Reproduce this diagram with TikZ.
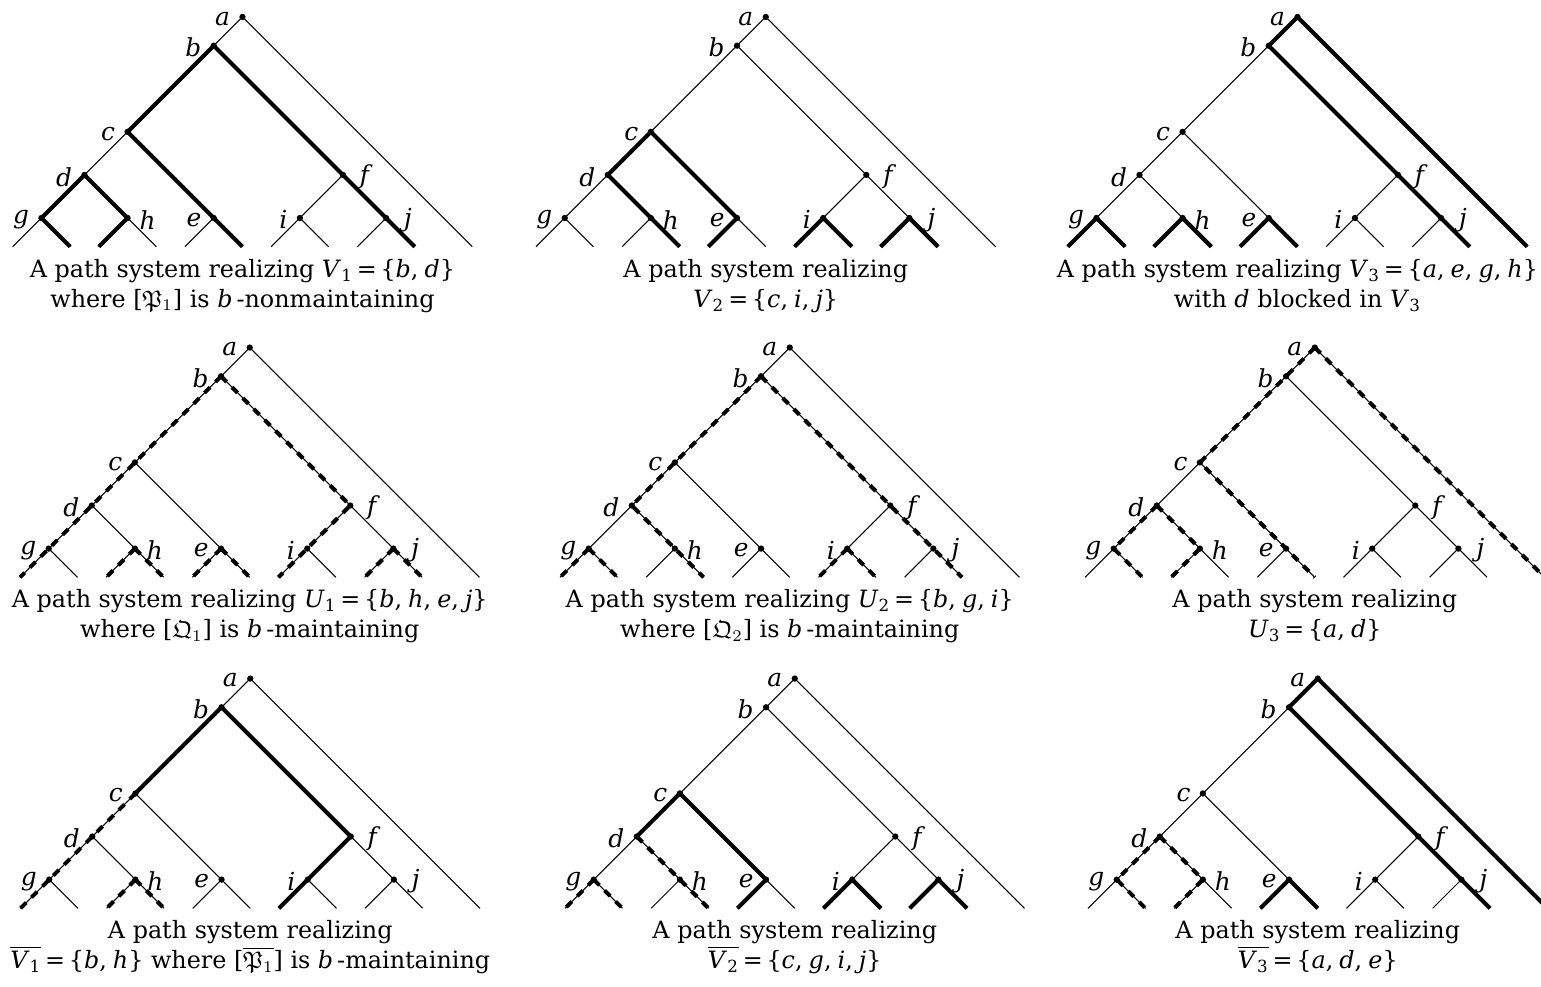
\documentclass[tikz,border=0pt]{standalone}
\usepackage{fontspec}
\setmainfont{DejaVu Serif}
\usepackage{amsfonts}
\newcommand\vv[1]{\textit{#1}}
\newcommand\sbs[1]{\textsubscript{#1}}
\newcommand\eqs{\kern1.6pt=\kern1.6pt}
\newcommand\cm{,\kern2.6pt}
\tikzset{
  x=0.4275pt, y=-0.4275pt,
  thinedge/.style={line width=0.45pt},
  thk/.style={line width=1.75pt, line cap=butt},
  dsh/.style={line width=1.7pt, line cap=butt, dash pattern=on 3.4pt off 3.2pt},
  tdot/.style={circle, fill=black, inner sep=0pt, minimum size=2.7pt},
  lbl/.style={inner sep=0pt, font=\fontsize{10.6}{12}\selectfont\itshape, yshift=-0.8pt},
  capt/.style={anchor=base, inner sep=0pt, font=\fontsize{10.2}{12}\selectfont}
}
\def\s{28.72}
% coordinates and thin tree
\newcommand\mktree[3]{%
\begin{scope}[shift={(#2,#3)}]
  \coordinate (#1a) at (8*\s,-8*\s);
  \coordinate (#1b) at (7*\s,-7*\s);
  \coordinate (#1c) at (4*\s,-4*\s);
  \coordinate (#1d) at (2.5*\s,-2.5*\s);
  \coordinate (#1e) at (7*\s,-1*\s);
  \coordinate (#1f) at (11.5*\s,-2.5*\s);
  \coordinate (#1g) at (1*\s,-1*\s);
  \coordinate (#1h) at (4*\s,-1*\s);
  \coordinate (#1i) at (10*\s,-1*\s);
  \coordinate (#1j) at (13*\s,-1*\s);
  \coordinate (#1gL) at (0,0);
  \coordinate (#1gR) at (2*\s,0);
  \coordinate (#1hL) at (3*\s,0);
  \coordinate (#1hR) at (5*\s,0);
  \coordinate (#1eL) at (6*\s,0);
  \coordinate (#1eR) at (8*\s,0);
  \coordinate (#1iL) at (9*\s,0);
  \coordinate (#1iR) at (11*\s,0);
  \coordinate (#1jL) at (12*\s,0);
  \coordinate (#1jR) at (14*\s,0);
  \coordinate (#1aR) at (16*\s,0);
  \coordinate (#1capA) at (8*\s,30.3);
  \coordinate (#1capB) at (8*\s,60.3);
\end{scope}
\draw[thinedge] (#1a)--(#1b) (#1a)--(#1aR) (#1b)--(#1c) (#1b)--(#1f)
  (#1c)--(#1d) (#1c)--(#1e) (#1d)--(#1g) (#1d)--(#1h)
  (#1e)--(#1eL) (#1e)--(#1eR) (#1f)--(#1i) (#1f)--(#1j)
  (#1g)--(#1gL) (#1g)--(#1gR) (#1h)--(#1hL) (#1h)--(#1hR)
  (#1i)--(#1iL) (#1i)--(#1iR) (#1j)--(#1jL) (#1j)--(#1jR);
}
% dots and labels
\newcommand\mkdots[1]{%
  \node[tdot, label={[lbl, label distance=3.6pt]left:a}] (#1na) at (#1a) {};
  \node[tdot, label={[lbl, label distance=3.6pt]left:b}] (#1nb) at (#1b) {};
  \node[tdot, label={[lbl, label distance=3.6pt]left:c}] (#1nc) at (#1c) {};
  \node[tdot, label={[lbl, label distance=3.6pt]left:d}] (#1nd) at (#1d) {};
  \node[tdot, label={[lbl, label distance=3.6pt]left:e}] (#1ne) at (#1e) {};
  \node[tdot, label={[lbl, label distance=5.5pt]right:f}] (#1nf) at (#1f) {};
  \node[tdot, label={[lbl, label distance=3.6pt]left:g}] (#1ng) at (#1g) {};
  \node[tdot, label={[lbl, label distance=3.4pt]right:h}] (#1nh) at (#1h) {};
  \node[tdot, label={[lbl, label distance=3.6pt]left:i}] (#1ni) at (#1i) {};
  \node[tdot, label={[lbl, label distance=6pt]right:j}] (#1nj) at (#1j) {};
}
\begin{document}
\begin{tikzpicture}
\useasboundingbox (0,0) rectangle (1541,986);
% ---------- row 1 ----------
\mktree{p1}{12.7}{246.7}
\draw[thk] (p1eR)--(p1e)--(p1c)--(p1b)--(p1f)--(p1j)--(p1jR);
\draw[thk] (p1gR)--(p1g)--(p1d)--(p1h)--(p1hL);
\mkdots{p1}
\node[capt] (p1t1) at (p1capA) {A path system realizing \vv{V}\sbs{1}\eqs\{\vv{b}\cm\vv{d}\}};
\node[capt] (p1t2) at (p1capB) {where [$\mathfrak{P}_1$] is \vv{b}\,-nonmaintaining};

\mktree{p2}{536}{246.7}
\draw[thk] (p2hR)--(p2h)--(p2d)--(p2c)--(p2e)--(p2eL);
\draw[thk] (p2iL)--(p2i)--(p2iR);
\draw[thk] (p2jL)--(p2j)--(p2jR);
\mkdots{p2}
\node[capt] (p2t1) at (p2capA) {A path system realizing};
\node[capt] (p2t2) at (p2capB) {\vv{V}\sbs{2}\eqs\{\vv{c}\cm\vv{i}\cm\vv{j}\}};

\mktree{p3}{1067.7}{246.7}
\draw[thk] (p3jR)--(p3j)--(p3f)--(p3b)--(p3a)--(p3aR);
\draw[thk] (p3gL)--(p3g)--(p3gR);
\draw[thk] (p3hL)--(p3h)--(p3hR);
\draw[thk] (p3eL)--(p3e)--(p3eR);
\mkdots{p3}
\node[capt] (p3t1) at (p3capA) {A path system realizing \vv{V}\sbs{3}\eqs\{\vv{a}\cm\vv{e}\cm\vv{g}\cm\vv{h}\}};
\node[capt] (p3t2) at (p3capB) {with \vv{d} blocked in \vv{V}\sbs{3}};

% ---------- row 2 ----------
\mktree{p4}{20}{577.3}
\draw[dsh] (p4b)--(p4c)--(p4d)--(p4g)--(p4gL);
\draw[dsh] (p4b)--(p4f)--(p4i)--(p4iL);
\draw[dsh] (p4h)--(p4hL); \draw[dsh] (p4h)--(p4hR);
\draw[dsh] (p4e)--(p4eL); \draw[dsh] (p4e)--(p4eR);
\draw[dsh] (p4j)--(p4jL); \draw[dsh] (p4j)--(p4jR);
\mkdots{p4}
\node[capt] (p4t1) at (p4capA) {A path system realizing \vv{U}\sbs{1}\eqs\{\vv{b}\cm\vv{h}\cm\vv{e}\cm\vv{j}\}};
\node[capt] (p4t2) at (p4capB) {where [$\mathfrak{Q}_1$] is \vv{b}\,-maintaining};

\mktree{p5}{560}{577.3}
\draw[dsh] (p5b)--(p5c)--(p5d)--(p5h)--(p5hR);
\draw[dsh] (p5b)--(p5f)--(p5j)--(p5jR);
\draw[dsh] (p5g)--(p5gL); \draw[dsh] (p5g)--(p5gR);
\draw[dsh] (p5i)--(p5iL); \draw[dsh] (p5i)--(p5iR);
\mkdots{p5}
\node[capt] (p5t1) at (p5capA) {A path system realizing \vv{U}\sbs{2}\eqs\{\vv{b}\cm\vv{g}\cm\vv{i}\}};
\node[capt] (p5t2) at (p5capB) {where [$\mathfrak{Q}_2$] is \vv{b}\,-maintaining};

\mktree{p6}{1085}{577.3}
\draw[dsh] (p6a)--(p6b)--(p6c)--(p6e)--(p6eR);
\draw[dsh] (p6a)--(p6aR);
\draw[dsh] (p6d)--(p6g)--(p6gR);
\draw[dsh] (p6d)--(p6h)--(p6hL);
\mkdots{p6}
\node[capt] (p6t1) at (p6capA) {A path system realizing};
\node[capt] (p6t2) at (p6capB) {\vv{U}\sbs{3}\eqs\{\vv{a}\cm\vv{d}\}};

% ---------- row 3 ----------
\mktree{p7}{20.5}{908.3}
\draw[thk] (p7c)--(p7b)--(p7f)--(p7i)--(p7iL);
\draw[dsh] (p7c)--(p7d)--(p7g)--(p7gL);
\draw[dsh] (p7h)--(p7hL); \draw[dsh] (p7h)--(p7hR);
\mkdots{p7}
\node[capt] (p7t1) at (p7capA) {A path system realizing};
\node[capt] (p7t2) at (p7capB) {$\overline{\mbox{\vv{V}\sbs{1}}}$\eqs\{\vv{b}\cm\vv{h}\} where [$\overline{\mathfrak{P}_1}$] is \vv{b}\,-maintaining};

\mktree{p8}{565}{908.3}
\draw[thk] (p8d)--(p8c)--(p8e)--(p8eL);
\draw[thk] (p8iL)--(p8i)--(p8iR);
\draw[thk] (p8jL)--(p8j)--(p8jR);
\draw[dsh] (p8d)--(p8h)--(p8hR);
\draw[dsh] (p8g)--(p8gL); \draw[dsh] (p8g)--(p8gR);
\mkdots{p8}
\node[capt] (p8t1) at (p8capA) {A path system realizing};
\node[capt] (p8t2) at (p8capB) {$\overline{\mbox{\vv{V}\sbs{2}}}$\eqs\{\vv{c}\cm\vv{g}\cm\vv{i}\cm\vv{j}\}};

\mktree{p9}{1088}{908.3}
\draw[thk] (p9jR)--(p9j)--(p9f)--(p9b)--(p9a)--(p9aR);
\draw[thk] (p9eL)--(p9e)--(p9eR);
\draw[dsh] (p9d)--(p9g)--(p9gR);
\draw[dsh] (p9d)--(p9h)--(p9hL);
\mkdots{p9}
\node[capt] (p9t1) at (p9capA) {A path system realizing};
\node[capt] (p9t2) at (p9capB) {$\overline{\mbox{\vv{V}\sbs{3}}}$\eqs\{\vv{a}\cm\vv{d}\cm\vv{e}\}};
\end{tikzpicture}
\end{document}
